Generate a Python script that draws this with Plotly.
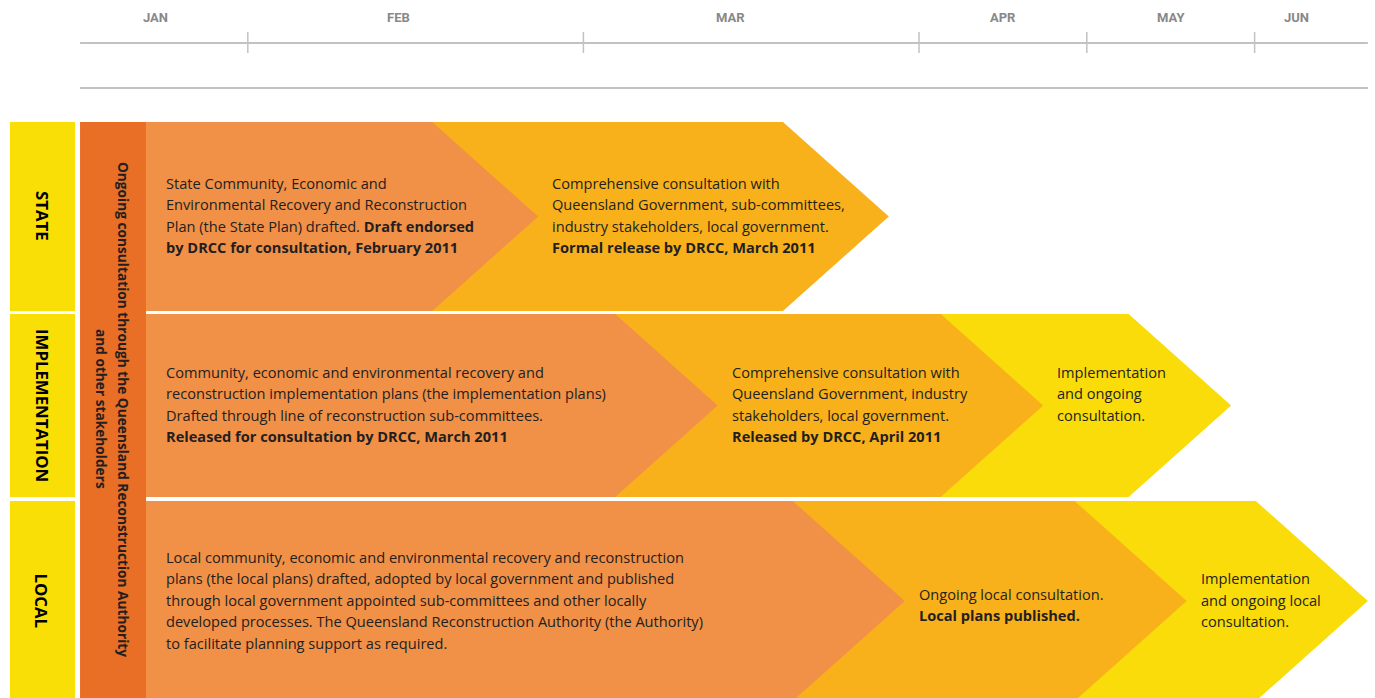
import numpy as np
import plotly.graph_objects as go

# ---------------- data ----------------
months = ["JAN", "FEB", "MAR", "APR", "MAY", "JUN"]
month_weeks = [2, 4, 4, 2, 2, 1.35]          # length of each month on the timeline (weeks)
month_label_pos = [0.9, 3.8, 7.75, 11.0, 13.0, 14.5]

rows = ["STATE", "IMPLEMENTATION", "LOCAL"]
ongoing_text = ["Ongoing consultation through the Queensland Reconstruction Authority",
                "and other stakeholders"]

# end (arrow tip) of each stage, in weeks from start of January
state_ends = [5.46, 9.64]
impl_ends = [7.60, 11.48, 13.72]
local_ends = [9.83, 13.19, 15.35]

state_texts = [
    ["State Community, Economic and",
     "Environmental Recovery and Reconstruction",
     "Plan (the State Plan) drafted. <b>Draft endorsed</b>",
     "<b>by DRCC for consultation, February 2011</b>"],
    ["Comprehensive consultation with",
     "Queensland Government, sub-committees,",
     "industry stakeholders, local government.",
     "<b>Formal release by DRCC, March 2011</b>"],
]
impl_texts = [
    ["Community, economic and environmental recovery and",
     "reconstruction implementation plans (the implementation plans)",
     "Drafted through line of reconstruction sub-committees.",
     "<b>Released for consultation by DRCC, March 2011</b>"],
    ["Comprehensive consultation with",
     "Queensland Government, industry",
     "stakeholders, local government.",
     "<b>Released by DRCC, April 2011</b>"],
    ["Implementation", "and ongoing", "consultation."],
]
local_texts = [
    ["Local community, economic and environmental recovery and reconstruction",
     "plans (the local plans) drafted, adopted by local government and published",
     "through local government appointed sub-committees and other locally",
     "developed processes. The Queensland Reconstruction Authority (the Authority)",
     "to facilitate planning support as required."],
    ["Ongoing local consultation.", "<b>Local plans published.</b>"],
    ["Implementation", "and ongoing local", "consultation."],
]

# ---------------- layout / style ----------------
W, H = 1375, 698
X_RANGE = [-0.954, 15.435]
PX_PER_UNIT = W / (X_RANGE[1] - X_RANGE[0])
ROW_TOP = [122, 314, 501]
ROW_BOT = [311, 497, 701]
ONGOING_COL = [0.0, 0.787]
LABEL_COL = [-0.835, -0.06]
AXIS_Y, AXIS2_Y, TICK_Y = 43, 88, (32, 53)
LINE_H = 21.5
TEXT_DY = -1.5
BLOCK_DY = [[0, 0], [0, 0, -10.75], [0, 5, 0]]   # vertical nudge of each text block (px)
STAGE_COLORS = ["#F19047", "#F9B11B", "#F9DC0A"]
LABEL_YELLOW = "#F9DF05"
COL_ORANGE = "#E96E26"
TEXT_COL = "#231F20"
FONT = "Open Sans"
FS = 14.6

bounds = np.concatenate([[0], np.cumsum(month_weeks)])

fig = go.Figure()
shapes, annos = [], []

# timeline lines
for yy in (AXIS_Y, AXIS2_Y):
    shapes.append(dict(type="line", x0=bounds[0], x1=bounds[-1], y0=yy, y1=yy,
                       xref="x", yref="y", line=dict(color="#C2C2C2", width=2)))
for b in bounds[1:-1]:
    shapes.append(dict(type="line", x0=b, x1=b, y0=TICK_Y[0], y1=TICK_Y[1],
                       xref="x", yref="y", line=dict(color="#C2C2C2", width=1.5)))
for m, p in zip(months, month_label_pos):
    annos.append(dict(x=p, y=17, xref="x", yref="y", text="<b>" + m + "</b>",
                      showarrow=False, font=dict(family="Roboto", size=13, color="#888888"),
                      xanchor="center", yanchor="middle"))

# label boxes and ongoing column
for r, name in enumerate(rows):
    shapes.append(dict(type="rect", x0=LABEL_COL[0], x1=LABEL_COL[1], y0=ROW_TOP[r],
                       y1=ROW_BOT[r], xref="x", yref="y", fillcolor=LABEL_YELLOW,
                       line=dict(width=0), layer="below"))
    annos.append(dict(x=(LABEL_COL[0] + LABEL_COL[1]) / 2, y=(ROW_TOP[r] + ROW_BOT[r]) / 2,
                      xref="x", yref="y", text="<b>" + name + "</b>", textangle=90,
                      showarrow=False, font=dict(family=FONT, size=16.8, color="#000000"),
                      xanchor="center", yanchor="middle"))
shapes.append(dict(type="rect", x0=ONGOING_COL[0], x1=ONGOING_COL[1], y0=ROW_TOP[0],
                   y1=ROW_BOT[-1], xref="x", yref="y", fillcolor=COL_ORANGE,
                   line=dict(width=0), layer="below"))
col_mid = (ONGOING_COL[0] + ONGOING_COL[1]) / 2
for i, t in enumerate(ongoing_text):
    annos.append(dict(x=col_mid + (0.5 - i) * 22 / PX_PER_UNIT, y=409, xref="x", yref="y",
                      text="<b>" + t + "</b>", textangle=90, showarrow=False,
                      font=dict(family=FONT, size=13.7, color=TEXT_COL),
                      xanchor="center", yanchor="middle"))

# chevrons
all_ends = [state_ends, impl_ends, local_ends]
all_texts = [state_texts, impl_texts, local_texts]
for r in range(3):
    top, bot = ROW_TOP[r], ROW_BOT[r]
    mid = (top + bot) / 2
    depth = 1.12 * (bot - top) / 2 / PX_PER_UNIT
    ends = all_ends[r]
    for k in reversed(range(len(ends))):
        tip = ends[k]
        xr = tip - depth
        x0 = ONGOING_COL[1]
        path = (f"M {x0},{top} L {xr},{top} L {tip},{mid} L {xr},{bot} "
                f"L {x0},{bot} Z")
        shapes.append(dict(type="path", path=path, xref="x", yref="y",
                           fillcolor=STAGE_COLORS[k], line=dict(width=0), layer="below"))
    for k, lines in enumerate(all_texts[r]):
        tx = ONGOING_COL[1] + 18 / PX_PER_UNIT if k == 0 else ends[k - 1] + 12 / PX_PER_UNIT
        n = len(lines)
        cy = mid + TEXT_DY + BLOCK_DY[r][k]
        for j, ln in enumerate(lines):
            ly = cy + (j - (n - 1) / 2) * LINE_H
            annos.append(dict(x=tx, y=ly, xref="x", yref="y", text=ln, showarrow=False,
                              font=dict(family=FONT, size=FS, color=TEXT_COL),
                              xanchor="left", yanchor="middle"))

fig.update_layout(
    width=W, height=H, margin=dict(l=0, r=0, t=0, b=0),
    paper_bgcolor="white", plot_bgcolor="white",
    xaxis=dict(range=X_RANGE, visible=False, fixedrange=True),
    yaxis=dict(range=[H, 0], visible=False, fixedrange=True),
    shapes=shapes, annotations=annos, showlegend=False,
)
fig.write_html("out.html", config={"displayModeBar": False},
               post_script="document.body.style.margin='0';document.body.style.overflow='hidden';")
